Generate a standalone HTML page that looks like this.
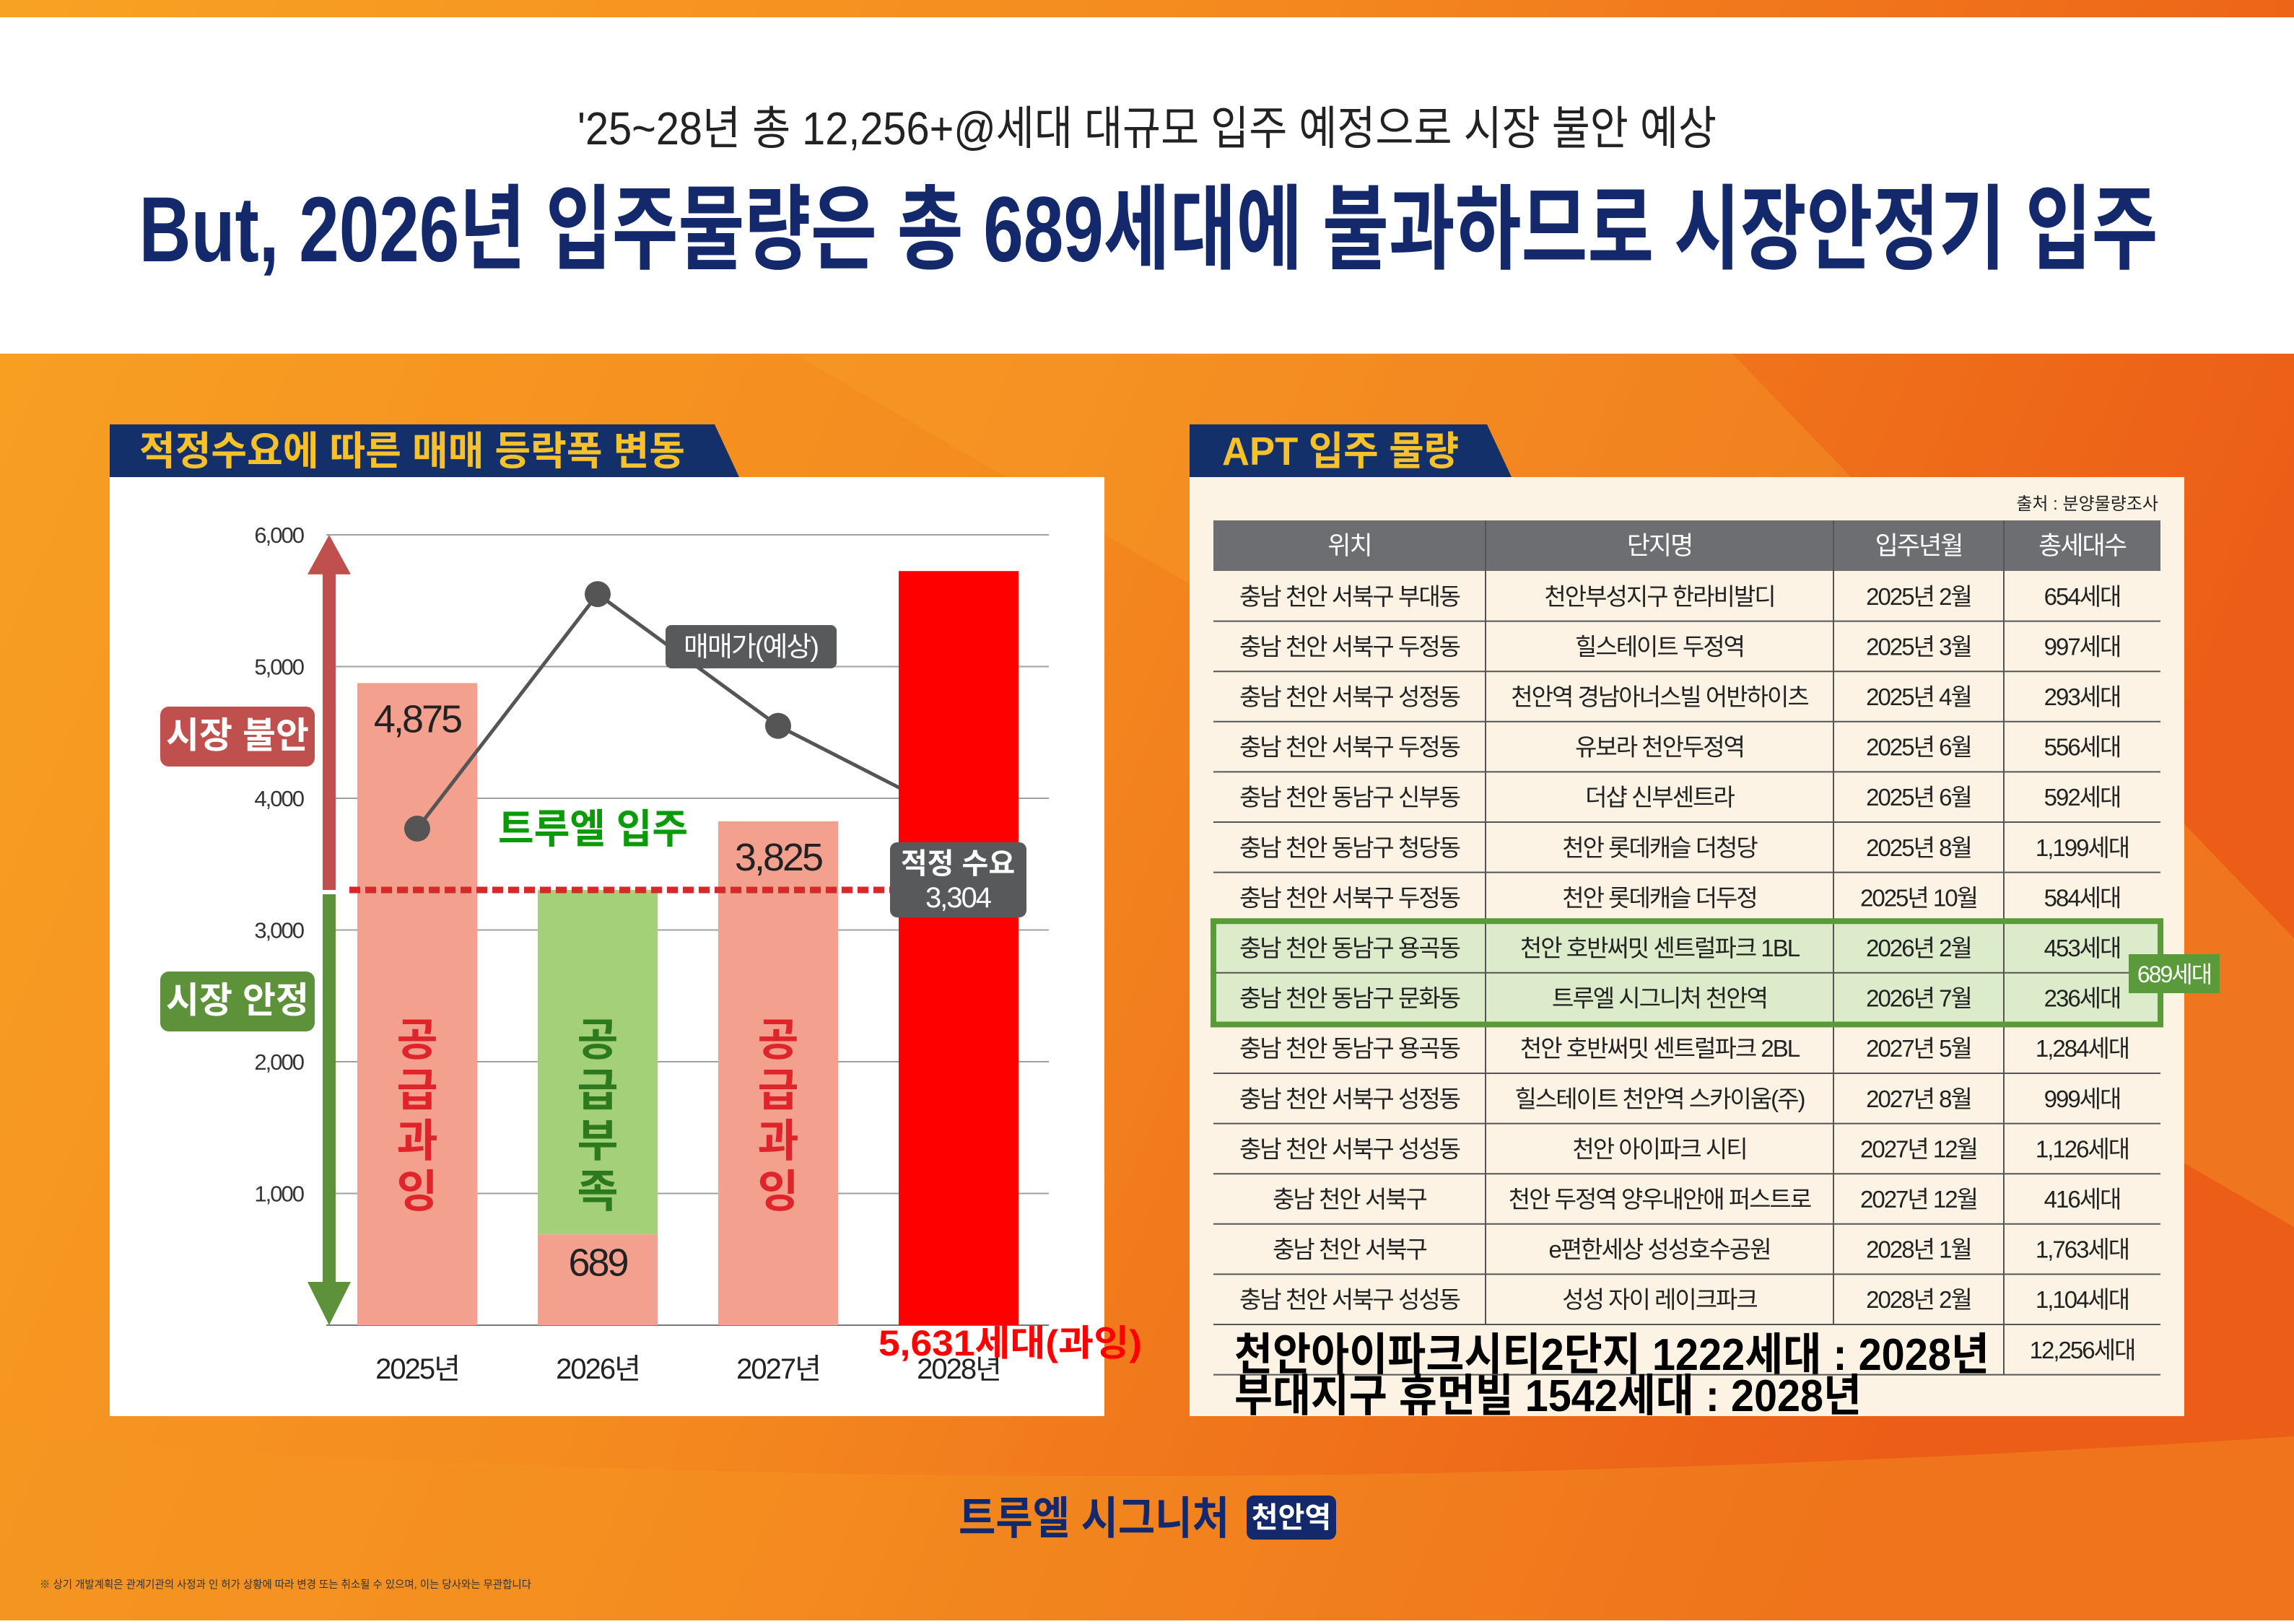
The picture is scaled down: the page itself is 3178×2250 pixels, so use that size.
<!DOCTYPE html>
<html><head><meta charset="utf-8">
<style>
html,body{margin:0;padding:0;}
body{width:3178px;height:2245px;overflow:hidden;font-family:"Liberation Sans","Noto Sans CJK KR",sans-serif;}
svg text{font-family:"Liberation Sans","Noto Sans CJK KR",sans-serif;}
</style></head>
<body>
<svg id="page" width="3178" height="2245" viewBox="0 0 3178 2245" xmlns="http://www.w3.org/2000/svg">
<defs>
<linearGradient id="bg" x1="0" y1="0" x2="1" y2="0.3">
<stop offset="0" stop-color="#f8a223"/><stop offset="0.5" stop-color="#f48a1f"/><stop offset="1" stop-color="#ec5e17"/>
</linearGradient>
</defs>
<rect x="0" y="0" width="3178" height="2245" fill="url(#bg)"/>
<path d="M1100 490 L2400 490 L3178 1300 L3178 1700 Z" fill="#f7a02a" opacity="0.35"/>
<path d="M0 1990 Q1500 2100 3178 1990 L3178 2245 L0 2245Z" fill="#f59524" opacity="0.4"/>
<rect x="0" y="24" width="3178" height="466" fill="#ffffff"/>
<text x="1589" y="200" text-anchor="middle" font-size="64" fill="#222" textLength="1578" lengthAdjust="spacingAndGlyphs">'25~28년 총 12,256+@세대 대규모 입주 예정으로 시장 불안 예상</text>
<text x="1591" y="362" text-anchor="middle" font-size="128" font-weight="bold" fill="#14296b" textLength="2797" lengthAdjust="spacingAndGlyphs">But, 2026년 입주물량은 총 689세대에 불과하므로 시장안정기 입주</text>

<!-- left panel -->
<path d="M152 588 L990 588 L1024 661 L152 661Z" fill="#13306b"/>
<text x="193" y="644" font-size="55" font-weight="bold" fill="#f7c12b" textLength="756" lengthAdjust="spacingAndGlyphs">적정수요에 따른 매매 등락폭 변동</text>
<rect x="152" y="661" width="1378" height="1301" fill="#ffffff"/>
<g id="chart"></g>

<!-- right panel -->
<path d="M1648 588 L2060 588 L2094 661 L1648 661Z" fill="#13306b"/>
<text x="1693" y="644" font-size="55" font-weight="bold" fill="#f7c12b" textLength="328" lengthAdjust="spacingAndGlyphs">APT 입주 물량</text>
<rect x="1648" y="661" width="1378" height="1301" fill="#fdf3e5"/>
<text x="2990" y="706" text-anchor="end" font-size="24" fill="#222">출처 : 분양물량조사</text>
<g id="table"></g>
<text x="1710" y="1898" font-size="62" font-weight="bold" fill="#000" textLength="1046" lengthAdjust="spacingAndGlyphs">천안아이파크시티2단지 1222세대 : 2028년</text>
<text x="1710" y="1955" font-size="62" font-weight="bold" fill="#000" textLength="869" lengthAdjust="spacingAndGlyphs">부대지구 휴먼빌 1542세대 : 2028년</text>

<!-- footer -->
<text x="1328" y="2125" font-size="62" font-weight="bold" fill="#14296b" textLength="375" lengthAdjust="spacingAndGlyphs">트루엘 시그니처</text>
<rect x="1727" y="2072" width="124" height="61" rx="10" fill="#14296b"/>
<text x="1789" y="2116" text-anchor="middle" font-size="40" font-weight="bold" fill="#fff">천안역</text>
<text x="55" y="2200" font-size="15" fill="#333" textLength="681" lengthAdjust="spacingAndGlyphs">※ 상기 개발계획은 관계기관의 사정과 인 허가 상황에 따라 변경 또는 취소될 수 있으며, 이는 당사와는 무관합니다</text>
</svg>
<script>
const years = ['2025년','2026년','2027년','2028년'];
const supply = [4875, 3304, 3825, 5725];
const supplyLabels = ['4,875', '', '3,825', ''];
const trueelSupply = 689;
const priceIndex = [3770, 5550, 4550, 3850];
const demand = 3304;
const yTicks = [1000, 2000, 3000, 4000, 5000, 6000];
const yTickLabels = ['1,000','2,000','3,000','4,000','5,000','6,000'];

const tblHeaders = ['위치','단지명','입주년월','총세대수'];
const tblLoc = ['충남 천안 서북구 부대동','충남 천안 서북구 두정동','충남 천안 서북구 성정동','충남 천안 서북구 두정동','충남 천안 동남구 신부동','충남 천안 동남구 청당동','충남 천안 서북구 두정동','충남 천안 동남구 용곡동','충남 천안 동남구 문화동','충남 천안 동남구 용곡동','충남 천안 서북구 성정동','충남 천안 서북구 성성동','충남 천안 서북구','충남 천안 서북구','충남 천안 서북구 성성동'];
const tblName = ['천안부성지구 한라비발디','힐스테이트 두정역','천안역 경남아너스빌 어반하이츠','유보라 천안두정역','더샵 신부센트라','천안 롯데캐슬 더청당','천안 롯데캐슬 더두정','천안 호반써밋 센트럴파크 1BL','트루엘 시그니처 천안역','천안 호반써밋 센트럴파크 2BL','힐스테이트 천안역 스카이움(주)','천안 아이파크 시티','천안 두정역 양우내안애 퍼스트로','e편한세상 성성호수공원','성성 자이 레이크파크'];
const tblDate = ['2025년 2월','2025년 3월','2025년 4월','2025년 6월','2025년 6월','2025년 8월','2025년 10월','2026년 2월','2026년 7월','2027년 5월','2027년 8월','2027년 12월','2027년 12월','2028년 1월','2028년 2월'];
const tblUnits = ['654세대','997세대','293세대','556세대','592세대','1,199세대','584세대','453세대','236세대','1,284세대','999세대','1,126세대','416세대','1,763세대','1,104세대'];
const tblTotal = '12,256세대';

const NS = 'http://www.w3.org/2000/svg';
function mk(parent, tag, attrs, txt){const e=document.createElementNS(NS,tag);for(const k in attrs)e.setAttribute(k,attrs[k]);if(txt!==undefined)e.textContent=txt;parent.appendChild(e);return e;}

// chart
const g = document.getElementById('chart');
const X0=452, X1=1453, Y0=1836, PER=182.5/1000;
const yS = v => Y0 - v*PER;
const slotW = 250, barW = 166, firstC = 578;
const xC = i => firstC + i*slotW;

yTicks.forEach((t,i)=>{
  const l = mk(g,'line',{x1:X0,x2:X1,y1:yS(t),y2:yS(t),stroke:'#a0a0a0','stroke-width':2});
  
  
  const tx = mk(g,'text',{x:420,y:yS(t)+11,'text-anchor':'end','font-size':31,fill:'#333','letter-spacing':'-2'},yTickLabels[i]);
  
  
});
const base = mk(g,'line',{x1:X0,x2:X1,y1:Y0,y2:Y0,stroke:'#777','stroke-width':2});



// arrows
const aR = mk(g,'path',{d:`M447 ${yS(demand)} L447 ${yS(5700)} L426 ${yS(5700)} L456 ${yS(6000)} L486 ${yS(5700)} L465 ${yS(5700)} L465 ${yS(demand)} Z`,fill:'#c0504d'});


const aG = mk(g,'path',{d:`M447 ${yS(demand)+6} L447 ${Y0-60} L426 ${Y0-60} L456 ${Y0} L486 ${Y0-60} L465 ${Y0-60} L465 ${yS(demand)+6} Z`,fill:'#5d913a'});


const b1 = mk(g,'rect',{x:222,y:979,width:214,height:83,rx:12,fill:'#c0504d'});


const b1t = mk(g,'text',{x:329,y:1036,'text-anchor':'middle','font-size':50,'font-weight':'bold',fill:'#fff'},'시장 불안');


const b2 = mk(g,'rect',{x:222,y:1346,width:214,height:83,rx:12,fill:'#5d913a'});


const b2t = mk(g,'text',{x:329,y:1403,'text-anchor':'middle','font-size':50,'font-weight':'bold',fill:'#fff'},'시장 안정');



// bars (0..2)
const barFill = ['#f4a08e','#f4a08e','#f4a08e','#ff0000'];
const vText = [['공','급','과','잉'],['공','급','부','족'],['공','급','과','잉']];
const vColor = ['#e0242b','#2d7a1e','#e0242b'];
for(let i=0;i<3;i++){
  const x = xC(i)-barW/2;
  if(i===1){
    const gb = mk(g,'rect',{x:x,y:yS(supply[i]),width:barW,height:yS(trueelSupply)-yS(supply[i]),fill:'#a4d07a'});
    
    
    const pb = mk(g,'rect',{x:x,y:yS(trueelSupply),width:barW,height:Y0-yS(trueelSupply),fill:barFill[i]});
    
    
    const lt = mk(g,'text',{x:xC(i),y:yS(trueelSupply)+57,'text-anchor':'middle','font-size':54,fill:'#222','letter-spacing':'-3'},String(trueelSupply));
    
    
  } else {
    const r = mk(g,'rect',{x:x,y:yS(supply[i]),width:barW,height:Y0-yS(supply[i]),fill:barFill[i]});
    
    
    const lt = mk(g,'text',{x:xC(i),y:yS(supply[i])+68,'text-anchor':'middle','font-size':54,fill:'#222','letter-spacing':'-3'},supplyLabels[i]);
    
    
  }
  vText[i].forEach((c,k)=>{
    const t = mk(g,'text',{x:xC(i),y:1462+k*70,'text-anchor':'middle','font-size':62,'font-weight':'bold',fill:vColor[i]},c);
    
    
  });
}
// price line (drawn before 2028 bar)
const pts = priceIndex.map((v,i)=>xC(i)+','+yS(v)).join(' ');
const pl = mk(g,'polyline',{points:pts,fill:'none',stroke:'#555','stroke-width':5});


priceIndex.slice(0,3).forEach((v,i)=>{
  const c = mk(g,'circle',{cx:xC(i),cy:yS(v),r:18,fill:'#555'});
  
  
});
// 2028 bar
const b28 = mk(g,'rect',{x:xC(3)-barW/2,y:yS(supply[3]),width:barW,height:Y0-yS(supply[3]),fill:barFill[3]});


// demand line
const dl = mk(g,'line',{x1:484,x2:1240,y1:yS(demand),y2:yS(demand),stroke:'#d42a2a','stroke-width':9,'stroke-dasharray':'15 7'});


// callouts
const pc = mk(g,'rect',{x:922,y:866,width:237,height:60,rx:8,fill:'#58595b'});


const pct = mk(g,'text',{x:1040,y:909,'text-anchor':'middle','font-size':38,fill:'#fff','letter-spacing':'-2'},'매매가(예상)');


const tr = mk(g,'text',{x:690,y:1168,'font-size':56,'font-weight':'bold',fill:'#0a9a0a',textLength:263,lengthAdjust:'spacingAndGlyphs'},'트루엘 입주');


const dc = mk(g,'rect',{x:1233,y:1167,width:189,height:104,rx:10,fill:'#58595b'});


const dct1 = mk(g,'text',{x:1327,y:1210,'text-anchor':'middle','font-size':40,'font-weight':'bold',fill:'#fff'},'적정 수요');


const dct2 = mk(g,'text',{x:1327,y:1257,'text-anchor':'middle','font-size':40,fill:'#fff','letter-spacing':'-2'},'3,304');


// x labels
years.forEach((y,i)=>{
  const t = mk(g,'text',{x:xC(i),y:1910,'text-anchor':'middle','font-size':40,fill:'#222','letter-spacing':'-2'},y);
  
  
});
const ov = mk(g,'text',{x:1217,y:1878,'font-size':50,'font-weight':'bold',fill:'#ff0000',textLength:365,lengthAdjust:'spacingAndGlyphs'},'5,631세대(과잉)');



// table
const T = document.getElementById('table');
const cols = [1681, 2058, 2540, 2776, 2993];
const hy = 721, hh = 70, rh = 69.6;
const hdr = mk(T,'rect',{x:cols[0],y:hy,width:cols[4]-cols[0],height:hh,fill:'#6d6e71'});


tblHeaders.forEach((h,c)=>{
  const t = mk(T,'text',{x:(cols[c]+cols[c+1])/2,y:hy+47,'text-anchor':'middle','font-size':35,fill:'#fff','letter-spacing':'-2'},h);
  
  
});
const hl = mk(T,'rect',{x:cols[0],y:hy+hh+7*rh,width:cols[4]-cols[0],height:2*rh,fill:'#dcebc9'});


const nRows = tblLoc.length;
for(let r=0;r<nRows;r++){
  const y = hy+hh+r*rh;
  const vals=[tblLoc[r],tblName[r],tblDate[r],tblUnits[r]];
  vals.forEach((v,c)=>{
    const t = mk(T,'text',{x:(cols[c]+cols[c+1])/2,y:y+rh/2+12,'text-anchor':'middle','font-size':33,fill:'#222','letter-spacing':'-2'},v);
    
    
  });
  const ln = mk(T,'line',{x1:cols[0],x2:cols[4],y1:y+rh,y2:y+rh,stroke:'#555','stroke-width':2});
  
  
}
const ty = hy+hh+nRows*rh;
const tt = mk(T,'text',{x:(cols[3]+cols[4])/2,y:ty+rh/2+12,'text-anchor':'middle','font-size':33,fill:'#222','letter-spacing':'-2'},tblTotal);


const tl = mk(T,'line',{x1:cols[0],x2:cols[4],y1:ty+rh,y2:ty+rh,stroke:'#555','stroke-width':2});


for(let c=1;c<4;c++){
  const vl = mk(T,'line',{x1:cols[c],x2:cols[c],y1:hy,y2:(c===3?ty+rh:ty),stroke:'#555','stroke-width':2});
  
  
}
const hb = mk(T,'rect',{x:1681,y:hy+hh+7*rh-2,width:1312,height:2*rh+4,fill:'none',stroke:'#5a9a3a','stroke-width':8});


const hbg = mk(T,'rect',{x:2949,y:1322,width:126,height:54,fill:'#5a9a3a'});


const hbt = mk(T,'text',{x:3012,y:1361,'text-anchor':'middle','font-size':32,fill:'#fff','letter-spacing':'-2'},'689세대');


</script>
</body></html>
